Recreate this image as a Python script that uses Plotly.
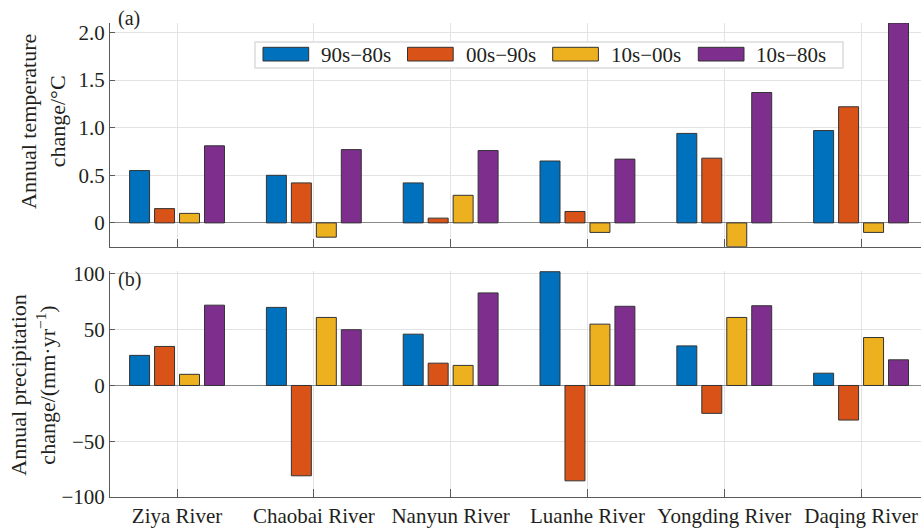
import plotly.graph_objects as go
from plotly.subplots import make_subplots

# Basins (categories) and decadal-difference series
rivers = ["Ziya River", "Chaobai River", "Nanyun River",
          "Luanhe River", "Yongding River", "Daqing River"]
periods = ["90s\u221280s", "00s\u221290s", "10s\u221200s", "10s\u221280s"]
colors = ["#0072BD", "#D95319", "#EDB120", "#7E2F8E"]

# (a) annual temperature change, °C
temp_90_80 = [0.55, 0.50, 0.42, 0.65, 0.94, 0.97]
temp_00_90 = [0.15, 0.42, 0.05, 0.12, 0.68, 1.22]
temp_10_00 = [0.10, -0.15, 0.29, -0.10, -0.25, -0.10]
temp_10_80 = [0.81, 0.77, 0.76, 0.67, 1.37, 2.10]

# (b) annual precipitation change, mm/yr
prec_90_80 = [27, 70, 46, 102, 35.5, 11]
prec_00_90 = [35, -81, 20, -85.5, -25, -31]
prec_10_00 = [10, 61, 18, 55, 61, 43]
prec_10_80 = [72, 50, 83, 71, 71.5, 23]

temp_series = [temp_90_80, temp_00_90, temp_10_00, temp_10_80]
prec_series = [prec_90_80, prec_00_90, prec_10_00, prec_10_80]
xpos = list(range(1, len(rivers) + 1))

W, H = 921, 530
ML, MR, MT, MB = 110, 0, 23, 33
PW, PH = W - ML - MR, H - MT - MB


def px_x(p):
    return (p - ML) / PW


def px_y(p):
    return (H - MB - p) / PH


fig = make_subplots(rows=2, cols=1, shared_xaxes=False, vertical_spacing=0.05)

for i in range(4):
    fig.add_trace(go.Bar(x=xpos, y=temp_series[i], name=periods[i],
                         marker=dict(color=colors[i], line=dict(color="#333333", width=1)),
                         showlegend=False), row=1, col=1)
    fig.add_trace(go.Bar(x=xpos, y=prec_series[i], name=periods[i],
                         marker=dict(color=colors[i], line=dict(color="#333333", width=1)),
                         showlegend=False), row=2, col=1)

FONT = "Liberation Serif, Times New Roman, serif"
TXT = "#231f20"
axis_col = "#5a5a5a"
grid_col = "#e3e3e3"

xcommon = dict(range=[0.51, 6.438], tickvals=xpos, ticktext=rivers,
               showgrid=True, gridcolor=grid_col, gridwidth=1,
               showline=True, linecolor=axis_col, linewidth=1,
               ticks="inside", ticklen=8, tickcolor=axis_col,
               zeroline=False, tickfont=dict(size=21, color=TXT, family=FONT))
ycommon = dict(showgrid=True, gridcolor=grid_col, gridwidth=1,
               showline=True, linecolor=axis_col, linewidth=1,
               ticks="inside", ticklen=5, tickcolor=axis_col,
               zeroline=True, zerolinecolor="#8a8a8a", zerolinewidth=1.2,
               tickfont=dict(size=21, color=TXT, family=FONT))

top_bottom = px_y(246.7)
bot_top = px_y(270.6)

fig.update_xaxes(**xcommon, domain=[0, 1], showticklabels=False, row=1, col=1)
fig.update_xaxes(**xcommon, domain=[0, 1], showticklabels=True, row=2, col=1)
fig.update_yaxes(**ycommon, domain=[top_bottom, 1.0], range=[-0.25, 2.1],
                 tickvals=[0, 0.5, 1.0, 1.5, 2.0], ticktext=["0", "0.5", "1.0", "1.5", "2.0"],
                 row=1, col=1)
fig.update_yaxes(**ycommon, domain=[0, bot_top], range=[-100, 103],
                 tickvals=[-100, -50, 0, 50, 100],
                 ticktext=["\u2212100", "\u221250", "0", "50", "100"],
                 row=2, col=1)

shapes = []
annotations = []

# Legend box with wide colour patches
shapes.append(dict(type="rect", xref="paper", yref="paper",
                   x0=px_x(255), x1=px_x(843), y0=px_y(68), y1=px_y(42),
                   line=dict(color="#dcdcdc", width=1.5), fillcolor="white", layer="above"))
patch_x = [263, 407.5, 552.7, 698.3]
for i in range(4):
    shapes.append(dict(type="rect", xref="paper", yref="paper",
                       x0=px_x(patch_x[i]), x1=px_x(patch_x[i] + 45.7),
                       y0=px_y(61), y1=px_y(47.3),
                       line=dict(color="#333333", width=1), fillcolor=colors[i], layer="above"))
    annotations.append(dict(text=periods[i], xref="paper", yref="paper",
                            x=px_x(patch_x[i] + 56), y=px_y(54.5),
                            xanchor="left", yanchor="middle", showarrow=False,
                            font=dict(size=21, color=TXT, family=FONT)))

# Panel labels
annotations.append(dict(text="(a)", xref="paper", yref="paper", x=px_x(116), y=px_y(18),
                        xanchor="left", yanchor="middle", showarrow=False,
                        font=dict(size=20, color=TXT, family=FONT)))
annotations.append(dict(text="(b)", xref="paper", yref="paper", x=px_x(116), y=px_y(280),
                        xanchor="left", yanchor="middle", showarrow=False,
                        font=dict(size=20, color=TXT, family=FONT)))

# Y-axis titles
annotations.append(dict(text="Annual temperature<br>change/\u00b0C", xref="paper", yref="paper",
                        x=px_x(43), y=px_y(122), textangle=-90,
                        xanchor="center", yanchor="middle", showarrow=False,
                        font=dict(size=22, color=TXT, family=FONT)))
annotations.append(dict(text="Annual precipitation<br>change/(mm\u00b7yr<sup>\u22121</sup>)",
                        xref="paper", yref="paper",
                        x=px_x(33), y=px_y(385.7), textangle=-90,
                        xanchor="center", yanchor="middle", showarrow=False,
                        font=dict(size=22, color=TXT, family=FONT)))

fig.update_layout(width=W, height=H, barmode="group", bargap=0.27, bargroupgap=0.2,
                  margin=dict(l=ML, r=MR, t=MT, b=MB, autoexpand=False),
                  plot_bgcolor="white", paper_bgcolor="white",
                  font=dict(family=FONT, color=TXT),
                  shapes=shapes, annotations=annotations, showlegend=False)

fig.write_html("out.html")
